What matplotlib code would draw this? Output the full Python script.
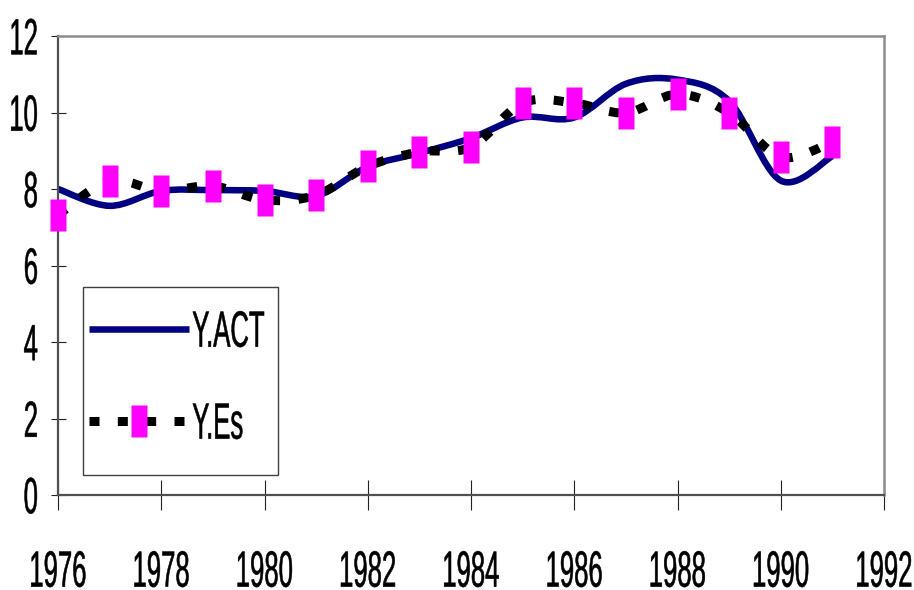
import numpy as np
import matplotlib
matplotlib.use("Agg")
import matplotlib.pyplot as plt
from matplotlib import patheffects
from matplotlib.path import Path
from matplotlib.patches import PathPatch, Rectangle
from matplotlib.transforms import Affine2D
from matplotlib.lines import Line2D

plt.rcParams['font.family'] = ['Liberation Sans', 'DejaVu Sans']
plt.rcParams['lines.scale_dashes'] = False

# data
years = [1976, 1977, 1978, 1979, 1980, 1981, 1982, 1983,
         1984, 1985, 1986, 1987, 1988, 1989, 1990, 1991]
y_act = [8.0, 7.56, 7.95, 7.97, 7.95, 7.82, 8.58, 8.94,
         9.33, 9.87, 9.87, 10.75, 10.86, 10.3, 8.22, 8.86]
y_es = [7.32, 8.21, 7.95, 8.08, 7.71, 7.84, 8.59, 8.97,
        9.10, 10.25, 10.25, 9.99, 10.48, 9.99, 8.84, 9.23]
x_ticks = list(range(1976, 1993, 2))
y_ticks = list(range(0, 13, 2))
labels = ["Y.ACT", "Y.Es"]

NAVY = "#000080"
PINK = "#FF00FF"
FS = 18.5


class Stretch(patheffects.AbstractPathEffect):
    """scale glyphs about their own centre (the old chart has tall narrow text)"""
    def __init__(self, sx=1.0, sy=1.0, stroke=0.0):
        super().__init__()
        self.sx, self.sy, self.stroke = sx, sy, stroke

    def draw_path(self, renderer, gc, tpath, affine, rgbFace=None):
        ext = tpath.get_extents()
        cx, cy = (ext.x0 + ext.x1) / 2, (ext.y0 + ext.y1) / 2
        t = Affine2D().translate(-cx, -cy).scale(self.sx, self.sy).translate(cx, cy) + affine
        gc2 = renderer.new_gc()
        gc2.copy_properties(gc)
        if self.stroke and rgbFace is not None:
            gc2.set_linewidth(self.stroke)
            gc2.set_foreground(rgbFace)
        renderer.draw_path(gc2, tpath, t, rgbFace)
        gc2.restore()


tall = [Stretch(1.0, 1.98, stroke=0.4)]


def smooth_path(xs, ys):
    # excel style smoothed line: catmull-rom segments as cubic beziers
    p = np.column_stack([xs, ys]).astype(float)
    n = len(p)
    verts = [p[0]]
    codes = [Path.MOVETO]
    for i in range(n - 1):
        p0, p1, p2, p3 = p[max(i - 1, 0)], p[i], p[i + 1], p[min(i + 2, n - 1)]
        verts += [p1 + (p2 - p0) / 6, p2 - (p3 - p1) / 6, p2]
        codes += [Path.CURVE4] * 3
    return Path(verts, codes)


rect = [(-0.53, -1), (0.53, -1), (0.53, 1), (-0.53, 1), (-0.53, -1)]
es_dash = (0, (7.2, 13.2))

fig = plt.figure(figsize=(9.14, 5.90), dpi=100)
ax = fig.add_axes([58 / 914, 95 / 590, 826 / 914, 459 / 590])

ax.add_patch(PathPatch(smooth_path(years, y_act), facecolor='none', edgecolor=NAVY,
                       lw=4.7, joinstyle='round', capstyle='butt', zorder=2))
ax.add_patch(PathPatch(smooth_path(years, y_es), facecolor='none', edgecolor='black',
                       lw=6.5, linestyle=es_dash, capstyle='butt', zorder=3))
ax.plot(years, y_es, linestyle='none', marker=rect, ms=23,
        mfc=PINK, mec='none', zorder=4, clip_on=False)

ax.set_xlim(1976, 1992)
ax.set_ylim(0, 12)
ax.set_xticks(x_ticks)
ax.set_yticks(y_ticks)
ax.tick_params(axis='x', direction='inout', length=20.9, width=0.8, pad=35.6,
               labelsize=FS, color='#222222')
ax.tick_params(axis='y', direction='inout', length=10.8, width=0.8, pad=9,
               labelsize=FS, color='#222222')
for lbl in ax.get_xticklabels() + ax.get_yticklabels():
    lbl.set_path_effects(tall)

for s in ['top', 'right']:
    ax.spines[s].set_color('#8c8c8c')
    ax.spines[s].set_linewidth(1.8)
for s in ['left', 'bottom']:
    ax.spines[s].set_color('#505050')
    ax.spines[s].set_linewidth(1.6)

handles = [Line2D([], [], color=NAVY, lw=4.7, solid_capstyle='butt'),
           Line2D([], [], color='black', lw=6.5, linestyle=es_dash, dash_capstyle='butt',
                  marker=rect, ms=23, mfc=PINK, mec='none')]
leg = ax.legend(handles, labels, loc='center left', bbox_to_anchor=(0.0375, 0.257),
                frameon=False, borderpad=0, borderaxespad=0, handlelength=3.9,
                handletextpad=0.12, labelspacing=2.65, fontsize=FS, numpoints=1)
for t in leg.get_texts():
    t.set_path_effects(tall)
ax.add_patch(Rectangle((0.0303, 0.0436), 0.2360, 0.4096, transform=ax.transAxes,
                       fill=False, ec='#404040', lw=1.0, zorder=5))

fig.savefig("out.png", dpi=100)
